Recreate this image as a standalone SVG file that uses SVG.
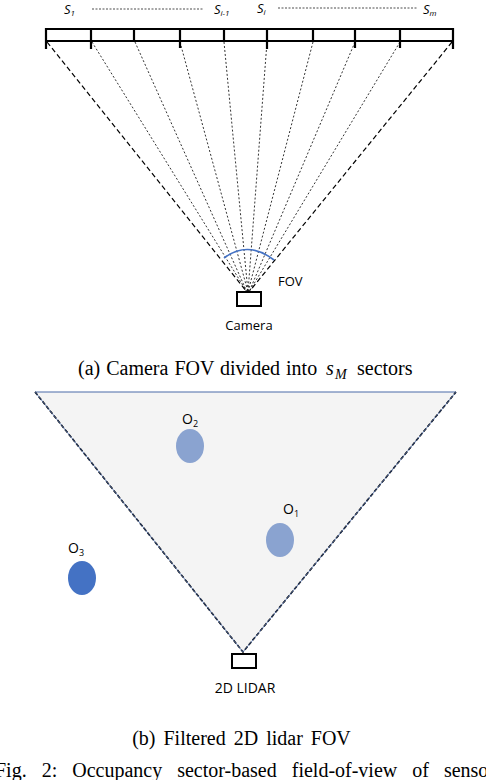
<svg xmlns="http://www.w3.org/2000/svg" width="486" height="780" viewBox="0 0 486 780">
<style>
.sans{font-family:"Open Sans","DejaVu Sans",sans-serif;fill:#000}
.ser{font-family:"Liberation Serif","Times New Roman",serif;fill:#000;font-size:20px}
.bar{stroke:#000;stroke-width:2.2;fill:none}
.ray{stroke:#000;stroke-width:0.8;stroke-dasharray:2 2;fill:none}
.rayo{stroke:#000;stroke-width:1.2;stroke-dasharray:5 3;fill:none}
.box{stroke:#000;stroke-width:2;fill:#fff}
</style>
<rect width="486" height="780" fill="#fff"/>
<g id="labels-top" class="sans" font-style="italic" font-size="13">
<text x="64" y="14">S<tspan font-size="8" dy="2">1</tspan></text>
<text x="214" y="14">S<tspan font-size="8" dy="2">i-1</tspan></text>
<text x="257" y="13">S<tspan font-size="8" dy="2">i</tspan></text>
<text x="423" y="14">S<tspan font-size="8" dy="2">m</tspan></text>
<line x1="92" y1="9" x2="204" y2="9" stroke="#000" stroke-width="0.7" stroke-dasharray="2 1.5"/>
<line x1="278" y1="8" x2="417" y2="8" stroke="#000" stroke-width="0.7" stroke-dasharray="2 1.5"/>
</g>
<g id="sector-bar">
<line class="bar" x1="45" y1="29" x2="454" y2="29"/>
<line class="bar" x1="45" y1="41" x2="454" y2="41"/>
<path class="bar" d="M46 28V49M91 28V49M180 28V48M267 28V49M355 28V48M400 28V48M453 28V49"/>
<path class="bar" stroke-width="1.4" d="M134 28V41M224 28V41M313 28V41"/>
</g>
<g id="connectors">
<line class="rayo" x1="47" y1="42" x2="247" y2="292"/>
<line class="rayo" x1="452" y1="42" x2="249" y2="292"/>
<line class="ray" x1="92" y1="42" x2="247" y2="292"/>
<line class="ray" x1="135" y1="42" x2="247" y2="292"/>
<line class="ray" x1="180" y1="42" x2="248" y2="292"/>
<line class="ray" x1="224" y1="42" x2="248" y2="292"/>
<line class="ray" x1="267" y1="42" x2="248" y2="292"/>
<line class="ray" x1="313" y1="42" x2="248" y2="292"/>
<line class="ray" x1="355" y1="42" x2="249" y2="292"/>
<line class="ray" x1="400" y1="42" x2="249" y2="292"/>
</g>
<g id="fov">
<path d="M224 258 Q248 240 274 260" stroke="#4472c4" stroke-width="1.6" fill="none"/>
<text class="sans" x="278" y="286" font-size="13">FOV</text>
</g>
<g id="camera">
<rect class="box" x="237" y="292" width="24" height="14"/>
<text class="sans" x="249" y="330" font-size="13" text-anchor="middle">Camera</text>
</g>
<g id="caption-a" class="ser">
<text x="78" y="375" word-spacing="1">(a) Camera FOV divided into</text>
<text x="326" y="375" font-style="italic">s</text>
<text x="335" y="379" font-style="italic" font-size="14">M</text>
<text x="357" y="375">sectors</text>
</g>
<g id="lidar-fov">
<path d="M35 392 L456 392 L243 652 Z" fill="#f4f4f4" stroke="none"/>
<line x1="35" y1="392" x2="456" y2="392" stroke="#4a6aa8" stroke-width="1.2"/>
<path d="M35 392 L243 652 L456 392" fill="none" stroke="#000" stroke-width="1.6" stroke-dasharray="4 2"/>
<path d="M35 392 L243 652 L456 392" fill="none" stroke="#4a6aa8" stroke-width="0.8"/>
</g>
<g id="o2">
<ellipse cx="190" cy="446" rx="14" ry="17" fill="#8aa3d0"/>
<text class="sans" x="182" y="424" font-size="14">O<tspan font-size="9" dy="3">2</tspan></text>
</g>
<g id="o1">
<ellipse cx="280" cy="540" rx="14" ry="17" fill="#8aa3d0"/>
<text class="sans" x="283" y="514" font-size="14">O<tspan font-size="9" dy="3">1</tspan></text>
</g>
<g id="o3">
<ellipse cx="82" cy="578" rx="14" ry="17" fill="#4472c4"/>
<text class="sans" x="68" y="553" font-size="14">O<tspan font-size="9" dy="3">3</tspan></text>
</g>
<g id="lidar">
<rect class="box" x="232" y="654" width="24" height="14"/>
<text class="sans" x="245" y="693" font-size="14" text-anchor="middle">2D LIDAR</text>
</g>
<text class="ser" x="241.5" y="745" text-anchor="middle" word-spacing="3">(b) Filtered 2D lidar FOV</text>
<text class="ser" x="-5" y="777" word-spacing="10">Fig. 2: Occupancy sector-based field-of-view of sensors</text>
</svg>
